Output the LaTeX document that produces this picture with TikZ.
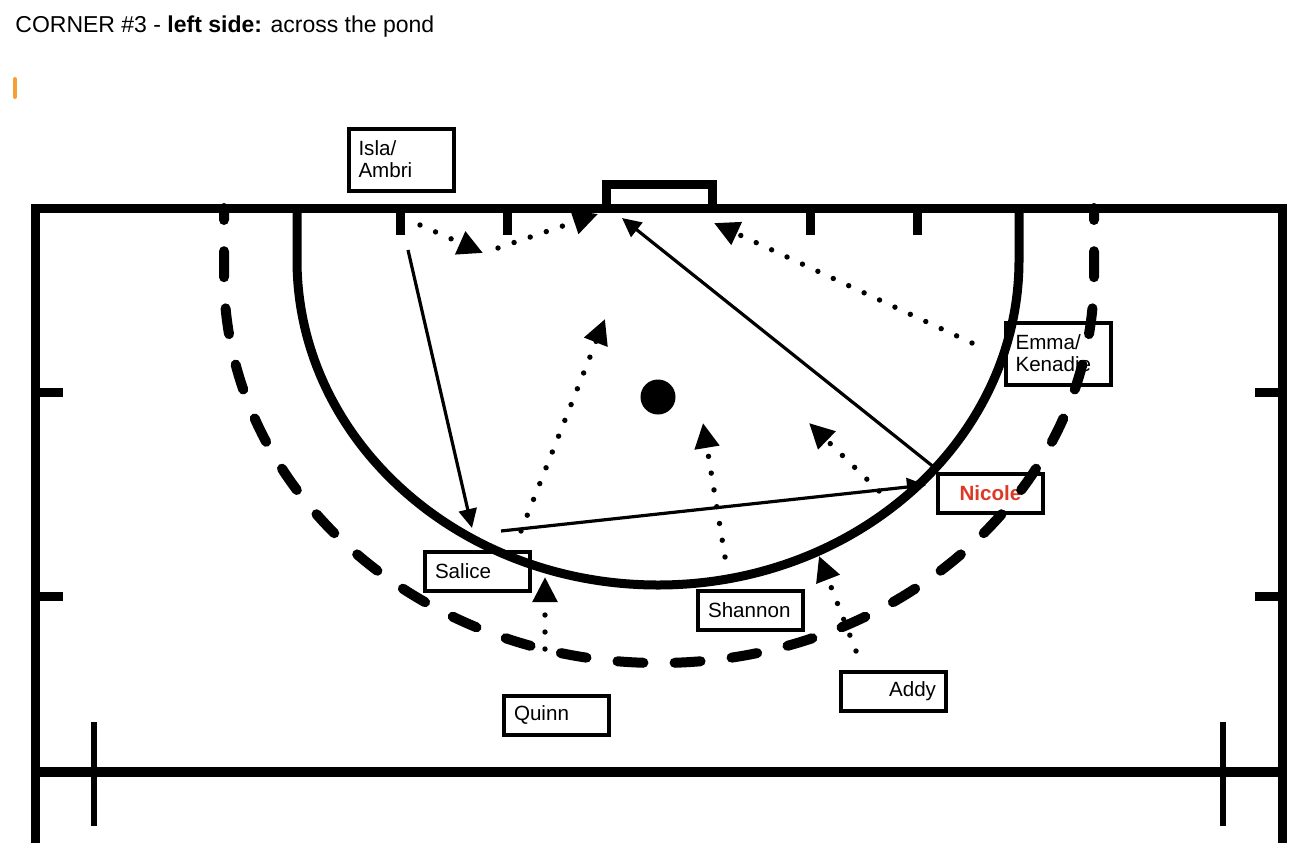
\documentclass[tikz,border=0pt]{standalone}
\usepackage{fontspec}
\setmainfont{Liberation Sans}
\usepackage{tikz}
\usepackage{xcolor}
\usetikzlibrary{arrows.meta}
\definecolor{padorange}{HTML}{F5A034}
\definecolor{padred}{HTML}{DC3A27}
\newcommand{\tagfont}{\fontsize{10.3}{11}\selectfont}
\tikzset{
  pitch/.style  ={line width=4.5pt, line join=miter},
  hash/.style   ={line width=4.5pt},
  quarter/.style={line width=3pt},
  dline/.style  ={line width=4.5pt},
  ddash/.style  ={line width=5pt, line cap=round,
                  dash pattern=on 13pt off 15.6pt, dash phase=7pt},
  tag/.style    ={draw, line width=2pt, minimum width=52.5pt, minimum height=19.5pt,
                  text width=42.5pt, inner xsep=5pt, inner ysep=0pt, align=left,
                  font=\tagfont},
  tagtwo/.style ={tag, minimum height=31pt},
  run/.style    ={line width=1.6pt, -{Triangle[length=9.5pt,width=9pt]}},
  move/.style   ={line width=2.7pt, line cap=round, dash pattern=on 0pt off 8.5pt,
                  -{Triangle[length=12.5pt,width=12pt]}},
}

\begin{document}
\begin{tikzpicture}[x=0.5pt,y=-0.5pt]
  \useasboundingbox (0,0) rectangle (1299,857);

  % ---- heading ------------------------------------------------------------
  \node[anchor=base west, inner sep=0pt, font=\fontsize{11.5}{14}\selectfont]
    (title) at (15,32) {CORNER \#3 - \textbf{left side:} across the pond};
  \draw[padorange, line width=2pt, line cap=round] (15,79) -- (15,97);

  % ---- players ------------------------------------------------------------
  \node[tagtwo] (isla) at (401,159.5) {Isla/\\Ambri};
  \node[tagtwo] (emma) at (1058,353.5) {Emma/\\Kenadie};
  \node[tag, align=center, text=padred, font=\tagfont\bfseries]
    (nicole) at (990.5,493.5) {Nicole};
  \node[tag] (salice)  at (477.5,571.5) {Salice};
  \node[tag] (shannon) at (750.5,610.5) {Shannon};
  \node[tag] (quinn)   at (556.5,715)   {Quinn};
  \node[tag, align=right] (addy) at (893.5,691.5) {Addy};

  % ---- pitch --------------------------------------------------------------
  \draw[pitch] (35.5,843) -- (35.5,208) -- (1282,208) -- (1282,843);
  \draw[pitch, line width=5pt] (35.5,772) -- (1282,772);
  \foreach \x in {94,1223} \draw[quarter] (\x,722) -- (\x,826);
  \foreach \y in {392,596} {
    \draw[hash] (35.5,\y) -- (63,\y);
    \draw[hash] (1255,\y) -- (1282,\y);
  }
  \foreach \x in {400,507,810,917} \draw[hash] (\x,208) -- (\x,235);

  % goal
  \draw[pitch] (606.5,208) -- (606.5,184.5) -- (712.5,184.5) -- (712.5,208);

  % circle and the dashed 5m line
  \draw[dline] (297,208) -- (297,260)
    arc[start angle=180, end angle=0, x radius=361, y radius=325] -- (1019,208);
  \draw[ddash] (224,208) -- (224,275)
    arc[start angle=180, end angle=90, x radius=435, y radius=388];
  \draw[ddash] (1094,208) -- (1094,275)
    arc[start angle=0, end angle=90, x radius=435, y radius=388];

  % ball
  \fill (658,397) circle[radius=17.5];

  % ---- passes and runs ----------------------------------------------------
  \coordinate (islaHit)    at (408,250);
  \coordinate (saliceRecv) at (472,528);
  \coordinate (saliceHit)  at (501,531);
  \coordinate (nicoleRecv) at (926,485);
  \coordinate (nicoleHit)  at (935,468);
  \coordinate (goalMouth)  at (622,218);
  \draw[run] (islaHit) -- (saliceRecv);
  \draw[run] (saliceHit) -- (nicoleRecv);
  \draw[run] (nicoleHit) -- (goalMouth);

  \coordinate (islaDot)    at (420,225);
  \coordinate (islaTurn)   at (483,253);
  \coordinate (islaOn)     at (498,248);
  \coordinate (postLeft)   at (598,214);
  \coordinate (emmaDot)    at (972,343);
  \coordinate (postRight)  at (714,223);
  \coordinate (saliceDot)  at (521,531);
  \coordinate (saliceEnd)  at (605,319);
  \coordinate (shannonDot) at (725,557);
  \coordinate (shannonEnd) at (703,423);
  \coordinate (nicoleDot)  at (879,491);
  \coordinate (nicoleEnd)  at (809,423);
  \coordinate (quinnDot)   at (545,649);
  \coordinate (quinnEnd)   at (545,577);
  \coordinate (addyDot)    at (856,651);
  \coordinate (addyEnd)    at (819,556);
  \draw[move] (islaDot) -- (islaTurn);
  \draw[move] (islaOn) -- (postLeft);
  \draw[move] (emmaDot) -- (postRight);
  \draw[move] (saliceDot) -- (saliceEnd);
  \draw[move] (shannonDot) -- (shannonEnd);
  \draw[move] (nicoleDot) -- (nicoleEnd);
  \draw[move] (quinnDot) -- (quinnEnd);
  \draw[move] (addyDot) -- (addyEnd);
\end{tikzpicture}
\end{document}
